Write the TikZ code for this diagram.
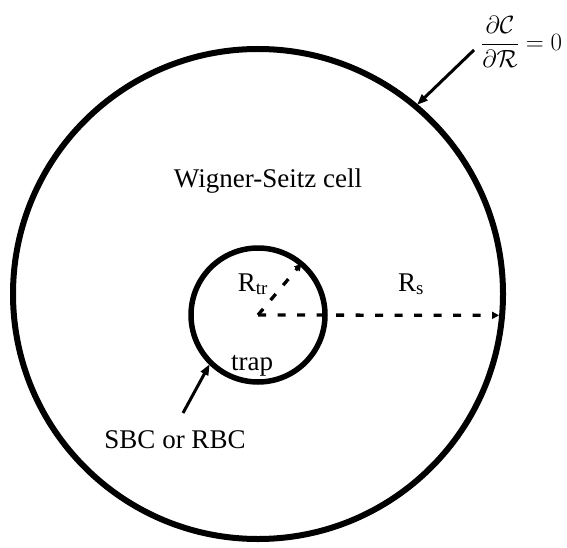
\documentclass[tikz,border=0pt]{standalone}
\usepackage{fontspec}
\setmainfont{Liberation Serif}
\usetikzlibrary{arrows.meta}
\begin{document}
\begin{tikzpicture}[x=1pt,y=-1pt,
  ring/.style={draw, circle, inner sep=0pt, outer sep=0pt},
  lbl/.style={font=\fontsize{27}{32}\selectfont, inner sep=0pt, anchor=base},
  pointer/.style={line width=3pt, -{Triangle[length=11pt,width=8pt]}},
  radius/.style={line width=3.3pt, dash pattern=on 8pt off 11.5pt, -{Triangle[length=7pt,width=7pt]}}]
\useasboundingbox (0,0) rectangle (567,548);
% circles
\node[ring, line width=6pt, minimum size=490pt] (cell) at (258,294) {};
\node[ring, line width=5.5pt, minimum size=134pt] (trap) at (258,315) {};
% labels
\node[lbl] (ws) at (268,187) {Wigner-Seitz cell};
\node[lbl] (rtr) at (253,291) {R\textsubscript{tr}};
\node[lbl] (rs) at (411,291) {R\textsubscript{s}};
\node[lbl] (traplbl) at (252,370) {trap};
\node[lbl] (sbc) at (175,448) {SBC or RBC};
\node[font=\fontsize{27}{32}\selectfont, inner sep=0pt, anchor=west] (bc) at (481,42)
  {$\displaystyle\frac{\partial\mathcal{C}}{\partial\mathcal{R}}=0$};
% radii
\draw[radius] (trap.center) -- ([shift={(-4pt,4pt)}]trap.45);
\draw[radius] (trap.center) -- ([xshift=-3pt]cell.-5);
% pointers
\coordinate (sbctail) at (183,413);
\coordinate (bctail) at (474,50);
\draw[pointer, shorten >=2pt] (sbctail) -- (trap.225);
\draw[pointer, shorten >=2pt] (bctail) -- (cell.50);
\end{tikzpicture}
\end{document}
